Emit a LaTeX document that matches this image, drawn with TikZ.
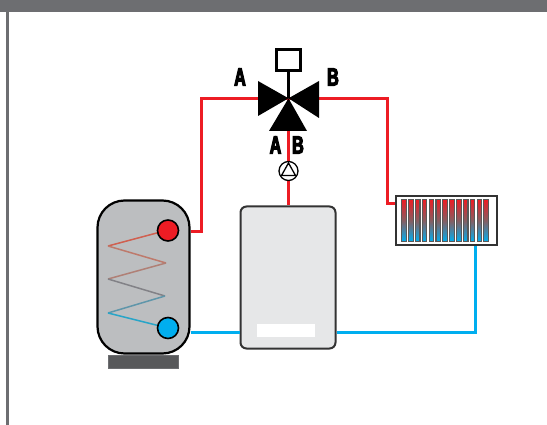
\documentclass[tikz,border=0pt]{standalone}
\usepackage{fontspec}
\setmainfont{Liberation Sans}
\newfontfamily\portfont[FakeStretch=0.64,FakeBold=4.5]{Liberation Sans Bold}
\usetikzlibrary{positioning}
\definecolor{hotred}{HTML}{ED1C24}
\definecolor{coldblue}{HTML}{00AEEF}
\definecolor{bargray}{HTML}{6D6E71}
\definecolor{tankgray}{HTML}{BCBEC0}
\definecolor{boilergray}{HTML}{E6E7E8}
\definecolor{basegray}{HTML}{58595B}
\tikzset{
    hotpipe/.style={draw=hotred, line width=3pt},
    coldpipe/.style={draw=coldblue, line width=3pt},
    coil/.style={line width=1.5pt},
    valvepart/.style={fill=black, draw=none},
    portlabel/.style={font=\portfont\fontsize{25}{25}\selectfont, inner sep=0pt},
    port/.style={circle, draw=black, line width=1.6pt, minimum size=21pt, inner sep=0pt},
    fin/.style={draw=black!65, line width=1.1pt, top color=hotred, bottom color=coldblue, middle color=bargray!80!hotred, minimum width=4.6pt, minimum height=42pt, inner sep=0pt}
}
\begin{document}
\begin{tikzpicture}[x=1pt, y=-1pt]
    \useasboundingbox (0,0) rectangle (547,425);
    % Frame
    \fill[bargray] (0,0) rectangle (547,12);
    \fill[bargray] (6,12) rectangle (8.6,425);
    % Pipe ends
    \coordinate (valve) at (288.5,98.3);
    \coordinate (hotbend) at (201,232);
    % Tank
    \node[draw=black, line width=2.2pt, fill=tankgray, rounded corners=27pt, minimum width=92pt, minimum height=153pt, inner sep=0pt] (tank) at (143.5,277) {};
    \node[draw=bargray, line width=1.2pt, fill=basegray, minimum width=70pt, minimum height=13pt, inner sep=0pt, below=0.5pt of tank] (base) {};
    % Boiler
    \node[draw=black!80, line width=2pt, fill=boilergray, rounded corners=6pt, minimum width=95pt, minimum height=142pt, inner sep=0pt] (boiler) at (288,277.5) {};
    \node[fill=white, minimum width=58pt, minimum height=13pt, inner sep=0pt] (display) at (286,330.5) {};
    % Radiator
    \node[draw=black!80, fill=white, line width=2pt, minimum width=101pt, minimum height=49pt, inner sep=0pt] (radiator) at (446,221) {};
    \foreach \i in {0,...,12}
        \node[fin] (fin\i) at (404+\i*6.85,220.5) {};
    % Actuator
    \node[draw=black, fill=white, line width=2.4pt, minimum width=24pt, minimum height=21pt, inner sep=0pt] (actuator) at (288.5,60) {};
    % Hot side
    \coordinate (hotout) at (tank.east |- hotbend);
    \coordinate (radin) at (radiator.west |- 0,204);
    \coordinate (radbend) at (387,204);
    \draw[hotpipe] (hotout) -- (hotbend) |- (valve);
    \draw[hotpipe] (valve) -| (radbend) -- (radin);
    \draw[hotpipe] (valve) -- (valve |- boiler.north);
    % Cold side
    \coordinate (coldout) at (tank.east |- 0,332);
    \coordinate (coldin) at (boiler.west |- 0,332);
    \coordinate (coldback) at (boiler.east |- 0,332);
    \coordinate (radout) at (475,246);
    \draw[coldpipe] (coldout) -- (coldin);
    \draw[coldpipe] (coldback) -| (radout);
    % Pump
    \node[circle, draw=black, fill=white, line width=1.3pt, minimum size=19pt, inner sep=0pt] (pump) at (288.5,171) {};
    \draw[line width=1.3pt] (288.5,163) -- (281.5,175.5) -- (295.5,175.5) -- cycle;
    % Valve
    \draw[line width=2.4pt] (actuator) -- (valve);
    \fill[valvepart] (valve) -- (258,81) -- (258,116) -- cycle;
    \fill[valvepart] (valve) -- (319,81) -- (319,118) -- cycle;
    \fill[valvepart] (valve) -- (269,131) -- (307,131) -- cycle;
    % Coil
    \draw[coil, draw={rgb,255:red,208;green,96;blue,80}] (168,230) -- (108,246);
    \draw[coil, draw={rgb,255:red,190;green,122;blue,108}] (108,246) -- (166,263);
    \draw[coil, draw={rgb,255:red,176;green,128;blue,118}] (166,263) -- (108,279);
    \draw[coil, draw={rgb,255:red,130;green,130;blue,135}] (108,279) -- (165,296);
    \draw[coil, draw={rgb,255:red,95;green,150;blue,170}] (165,296) -- (108,313);
    \draw[coil, draw={rgb,255:red,40;green,165;blue,200}] (108,313) -- (168,328);
    % Coil ports
    \node[port, fill=hotred] (hotport) at (168,230.5) {};
    \node[port, fill=coldblue] (coldport) at (168,328) {};
    % Labels
    \node[portlabel] (labela) at (240,77) {A};
    \node[portlabel] (labelb) at (333,77) {B};
    \node[portlabel] (labelab) at (275.5,145) {A};
    \node[portlabel] (labelba) at (298,145) {B};
\end{tikzpicture}
\end{document}
